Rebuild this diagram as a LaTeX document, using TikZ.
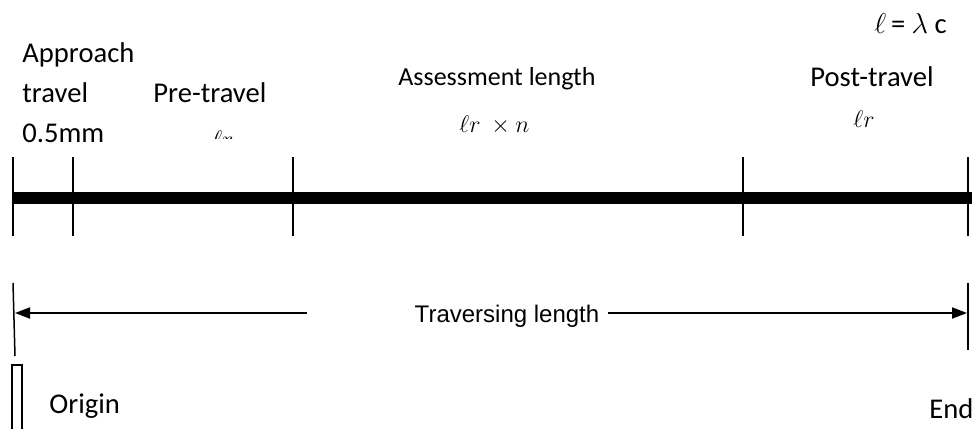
\documentclass[tikz,border=0pt]{standalone}
\usepackage{fontspec}
\setmainfont{Carlito}
\newfontfamily\arialfont{Liberation Sans}
\usetikzlibrary{arrows.meta,positioning}

\begin{document}
\begin{tikzpicture}[x=0.5pt,y=-0.5pt,
  every node/.style={inner sep=0pt,font=\fontsize{14.3}{20}\selectfont},
  lbl/.style={anchor=base west,align=left},
  mlbl/.style={anchor=base west,font=\fontsize{12}{14}\selectfont},
  tick/.style={line width=0.75pt},
  bar/.style={line width=6pt},
  arrow/.style={-{Triangle[length=7.5pt,width=5.5pt]},line width=1pt},
  ]
  \useasboundingbox (0,0) rectangle (972,428);

  %─── Cut-off relation ──────────────────────────────────────────────────────
  \node[lbl] (cutoff) at (874,33) {$\ell$\,= $\lambda$ c};

  %─── Segment labels ────────────────────────────────────────────────────────
  % base of a multi-line node is its last line
  \node[lbl] (approach) at (22,142) {Approach\\travel\\0.5mm};
  \node[lbl] (pre) at (153,102) {Pre-travel};
  \node[lbl,font=\fontsize{13}{16}\selectfont] (assess) at (398,85) {Assessment length};
  \node[lbl] (post) at (810,86) {Post-travel};

  % the pre-travel symbol is cut by its text box
  \begin{scope}
    \clip (150,100) rectangle (290,138);
    \node[mlbl] (prelr) at (212,147) {$\ell r$};
  \end{scope}
  \node[mlbl] (assesslr) at (459,132) {$\ell r\ \times n$};
  \node[mlbl] (postlr) at (853,127) {$\ell r$};

  %─── Bar with tick marks ───────────────────────────────────────────────────
  \coordinate (barL) at (13,198);
  \coordinate (barR) at (972,198);
  \draw[bar] (barL) -- (barR);
  \foreach \x in {13,73,293,743,968}
    \draw[tick] (\x,157) -- (\x,236);

  %─── Traversing length ─────────────────────────────────────────────────────
  \draw[tick] (13,283) -- (15,356);
  \draw[tick] (968,283) -- (968,350);
  \node[font=\arialfont\fontsize{12}{14}\selectfont,anchor=base]
    (trav) at (507,322) {Traversing length};
  \coordinate (lstart) at (307,313);
  \coordinate (lend) at (15,313);
  \coordinate (rstart) at (608,313);
  \coordinate (rend) at (967,313);
  \draw[arrow] (lstart) -- (lend);
  \draw[arrow] (rstart) -- (rend);

  %─── Origin / End ──────────────────────────────────────────────────────────
  \draw[tick] (12,432) -- (12,365) -- (22,365) -- (22,432);
  \node[lbl] (origin) at (49,413) {Origin};
  \node[lbl] (end) at (929,418) {End};

\end{tikzpicture}
\end{document}
